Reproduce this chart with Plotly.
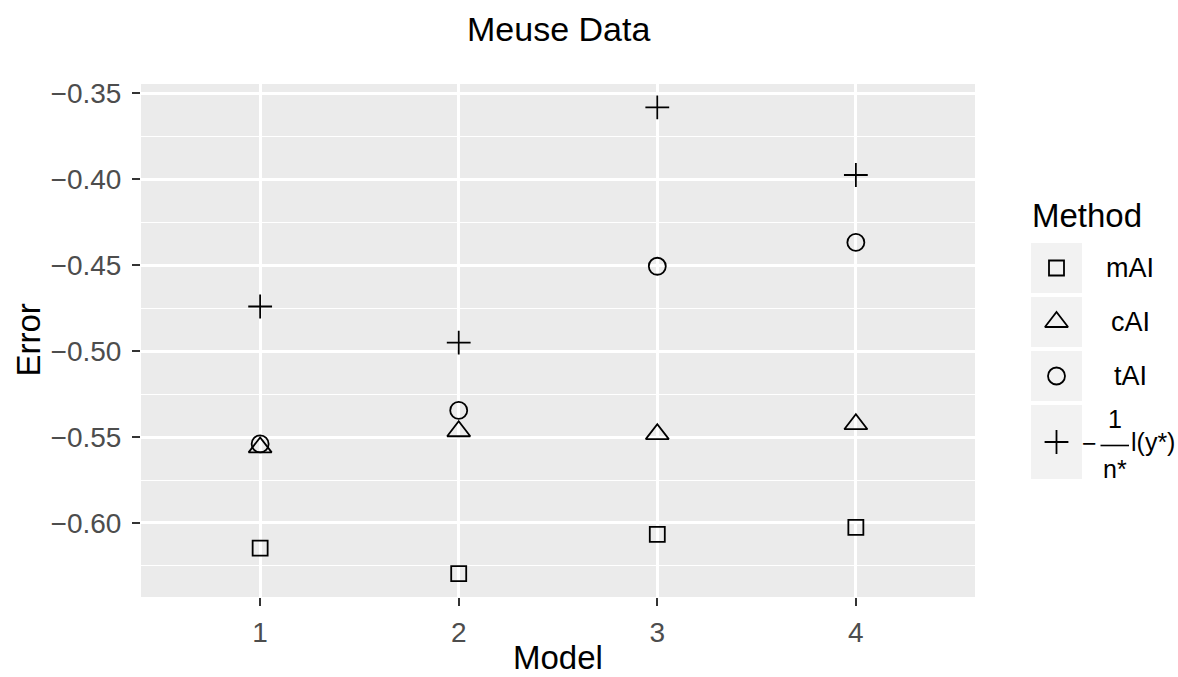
import plotly.graph_objects as go

# ---------------- data ----------------
models = [1, 2, 3, 4]
model_labels = ["1", "2", "3", "4"]
mAI = [-0.6146, -0.6295, -0.6066, -0.6025]
cAI = [-0.5560, -0.5466, -0.5483, -0.5425]
tAI = [-0.5540, -0.5345, -0.4506, -0.4367]
neg_ll = [-0.4740, -0.4950, -0.3581, -0.3975]
y_ticks = [-0.60, -0.55, -0.50, -0.45, -0.40, -0.35]
y_tick_text = ["\u22120.60", "\u22120.55", "\u22120.50", "\u22120.45", "\u22120.40", "\u22120.35"]
method_names = ["mAI", "cAI", "tAI", "nll"]
method_labels = ["mAI", "cAI", "tAI", ""]

# ---------------- styling ----------------
W, H = 1178, 677
ML, MR, MT, MB = 141, 0, 84, 80
PANEL_R = 975
FONT = "Liberation Sans, Arial, Helvetica, sans-serif"
TICK_FS = 28
AXT_FS = 33
TITLE_FS = 34
LEG_FS = 27
series = [mAI, cAI, tAI, neg_ll]
symbols = ["square-open", "triangle-up-open", "circle-open", "cross-thin-open"]
sizes = [15, 20, 17, 17]
LW = 1.8

plot_w = W - ML - MR
plot_h = H - MT - MB
main_dom = (PANEL_R - ML) / plot_w

all_vals = mAI + cAI + tAI + neg_ll
lo, hi = min(all_vals), max(all_vals)
pad = 0.05 * (hi - lo)

fig = go.Figure()
for name, vals, sym, sz in zip(method_names, series, symbols, sizes):
    fig.add_trace(go.Scatter(
        x=models, y=vals, mode="markers", name=name, showlegend=False,
        marker=dict(symbol=sym, size=sz, color="black", line=dict(width=LW, color="black")),
        xaxis="x", yaxis="y", cliponaxis=False,
    ))

# ---------------- custom legend (pixel-coordinate overlay axes) ----------------
LEG_X0 = 1020
box_x0, box_x1 = 1031, 1082
key_cx = (box_x0 + box_x1) / 2
rows = [(243, 293), (297, 347), (351, 401), (405, 479)]
label_cx = 1130

for (r0, r1) in rows:
    fig.add_shape(type="rect", xref="x2", yref="y2", x0=box_x0, x1=box_x1, y0=r0, y1=r1,
                  fillcolor="#F2F2F2", line=dict(width=0), layer="below")
for (r0, r1), sym, sz, name in zip(rows, symbols, sizes, method_names):
    fig.add_trace(go.Scatter(
        x=[key_cx], y=[(r0 + r1) / 2], mode="markers", showlegend=False, hoverinfo="skip",
        marker=dict(symbol=sym, size=sz, color="black", line=dict(width=LW, color="black")),
        xaxis="x2", yaxis="y2", cliponaxis=False,
    ))

annotations = []
annotations.append(dict(text="Method", x=1030, y=215, xref="x2", yref="y2", xanchor="left",
                        yanchor="middle", showarrow=False,
                        font=dict(size=AXT_FS, color="black", family=FONT)))
for (r0, r1), lab in zip(rows[:3], method_labels[:3]):
    annotations.append(dict(text=lab, x=label_cx, y=(r0 + r1) / 2, xref="x2", yref="y2",
                            xanchor="center", yanchor="middle", showarrow=False,
                            font=dict(size=LEG_FS, color="black", family=FONT)))
# fraction label:  - (1 / n*) l(y*)
r0, r1 = rows[3]
rc = (r0 + r1) / 2
frac_cx = 1115
FR_FS = 25
annotations += [
    dict(text="\u2212", x=1089, y=rc + 1, xref="x2", yref="y2", xanchor="center", yanchor="middle",
         showarrow=False, font=dict(size=FR_FS, color="black", family=FONT)),
    dict(text="1", x=frac_cx, y=rc - 23, xref="x2", yref="y2", xanchor="center", yanchor="middle",
         showarrow=False, font=dict(size=FR_FS, color="black", family=FONT)),
    dict(text="n*", x=frac_cx, y=rc + 27, xref="x2", yref="y2", xanchor="center", yanchor="middle",
         showarrow=False, font=dict(size=FR_FS, color="black", family=FONT)),
    dict(text="l(y*)", x=1129, y=rc, xref="x2", yref="y2", xanchor="left", yanchor="middle",
         showarrow=False, font=dict(size=FR_FS, color="black", family=FONT)),
]
fig.add_shape(type="line", xref="x2", yref="y2", x0=1100.5, x1=1129, y0=rc + 3.5, y1=rc + 3.5,
              line=dict(color="black", width=1.6))

# titles
annotations.append(dict(text="Meuse Data", x=0.5, y=(H - MB - 29) / plot_h, xref="x domain",
                        yref="paper", xanchor="center", yanchor="middle", showarrow=False,
                        font=dict(size=TITLE_FS, color="black", family=FONT)))
annotations.append(dict(text="Model", x=0.5, y=(H - MB - 657) / plot_h,
                        xref="x domain", yref="paper", xanchor="center", yanchor="middle",
                        showarrow=False, font=dict(size=AXT_FS, color="black", family=FONT)))
annotations.append(dict(text="Error", x=(28 - ML) / plot_w, y=0.5, xref="paper", yref="paper",
                        xanchor="center", yanchor="middle", textangle=-90, showarrow=False,
                        font=dict(size=AXT_FS, color="black", family=FONT)))

fig.update_layout(
    width=W, height=H,
    margin=dict(l=ML, r=MR, t=MT, b=MB, pad=0),
    paper_bgcolor="white", plot_bgcolor="white",
    font=dict(family=FONT),
    showlegend=False,
    annotations=annotations,
    xaxis=dict(
        domain=[0, main_dom], range=[0.4, 4.6], tickmode="array", tickvals=models,
        ticktext=model_labels, showgrid=True, gridcolor="white", gridwidth=2.5,
        zeroline=False, showline=False, ticks="outside", ticklen=8, tickwidth=1.5,
        tickcolor="#333333", tickfont=dict(size=TICK_FS, color="#4D4D4D", family=FONT),
        ticklabelstandoff=2, fixedrange=True,
    ),
    yaxis=dict(
        domain=[0, 1], range=[lo - pad, hi + pad], tickmode="array", tickvals=y_ticks,
        ticktext=y_tick_text, showgrid=True, gridcolor="white", gridwidth=2.5,
        zeroline=False, showline=False, ticks="outside", ticklen=8, tickwidth=1.5,
        tickcolor="#333333", tickfont=dict(size=TICK_FS, color="#4D4D4D", family=FONT),
        ticklabelstandoff=5,
        minor=dict(tickmode="linear", tick0=-0.375, dtick=0.05, showgrid=True,
                   gridcolor="white", gridwidth=1.3, ticklen=0),
    ),
    xaxis2=dict(domain=[(LEG_X0 - ML) / plot_w, 1], range=[LEG_X0, W], visible=False,
                anchor="y2", fixedrange=True),
    yaxis2=dict(domain=[0, 1], range=[H - MB, MT], visible=False,
                anchor="x2", fixedrange=True),
)
# panel background for main axes only
fig.add_shape(type="rect", xref="x domain", yref="y domain", x0=0, x1=1, y0=0, y1=1,
              fillcolor="#EBEBEB", line=dict(width=0), layer="below")

fig.write_html("out.html", config={"displayModeBar": False},
               post_script="document.body.style.margin='0';")
